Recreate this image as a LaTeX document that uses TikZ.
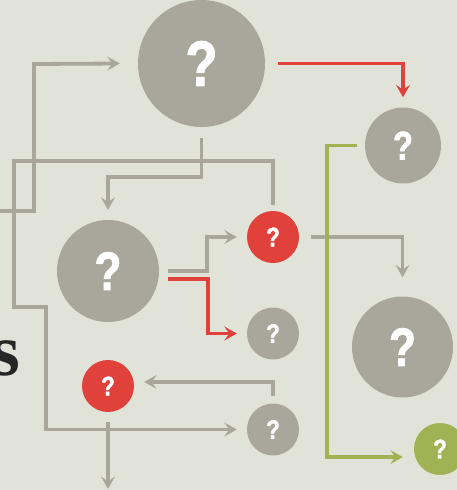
\documentclass[tikz,border=0pt]{standalone}
\usepackage{fontspec}
\usetikzlibrary{arrows.meta,calc}
\newfontfamily\qfont[FakeStretch=0.82,FakeBold=1.6]{Liberation Sans}
\newfontfamily\serfont{Liberation Serif}
\definecolor{bg}{RGB}{226,227,216}
\definecolor{qgrey}{RGB}{169,166,155}
\definecolor{qred}{RGB}{224,65,58}
\definecolor{qgreen}{RGB}{161,178,85}
\tikzset{
  q/.style={circle, inner sep=0pt, text=white, font=\qfont\bfseries\fontsize{#1}{#1}\selectfont},
  big/.style={q=64, minimum size=127pt, fill=qgrey},
  mid/.style={q=54, minimum size=102pt, fill=qgrey},
  med/.style={q=40, minimum size=76pt, fill=qgrey},
  small/.style={q=27, minimum size=52pt},
  conn/.style={line width=3.8pt, -{Stealth[length=12.5pt,width=14pt,inset=5pt]}},
  gl/.style={conn, draw=qgrey},
  rl/.style={conn, draw=qred},
  grl/.style={conn, draw=qgreen}
}
\begin{document}
\begin{tikzpicture}[x=1pt,y=-1pt]
\useasboundingbox (0,0) rectangle (457,490);
\clip (0,0) rectangle (457,490);
\fill[bg] (0,0) rectangle (457,490);

\node[anchor=base east, font=\serfont\bfseries\fontsize{74}{74}\selectfont, text=black!85, inner sep=0pt] (s) at (20,375) {s};

\node[big] (c1) at (201.5,63.5) {?};
\node[med] (c2) at (403,145.5) {?};
\node[small, fill=qred] (c3) at (273,237) {?};
\node[mid, minimum size=102pt] (c4) at (108,271) {?};
\node[small, fill=qgrey] (c5) at (273,333.5) {?};
\node[small, fill=qred] (c6) at (108,386) {?};
\node[small, fill=qgrey] (c7) at (273,429.5) {?};
\node[mid, minimum size=101pt] (c8) at (402.5,347) {?};
\node[small, fill=qgreen] (c9) at (440,449) {?};

\coordinate (a0) at (-2,211);
\coordinate (g1) at (108,489);

% A
\draw[gl] (a0) -| (34,64) -- ($(c1.west)+(-18,0)$);
% B
\draw[gl] ($(c1.south)+(0,11)$) -- (201.5,177) -| ($(c4.north)+(0,-10)$);
% C
\draw[gl] ($(c3.north)+(0,-6)$) |- (14,161) |- (46,307) |- ($(c7.west)+(-10,0)$);
% D
\draw[gl] ($(c4.east)+(9,0)$) -- (207,271) |- ($(c3.west)+(-10,0)$);
% E
\draw[rl] ($(c4.east)+(9,8)$) -- (208,279) |- ($(c5.west)+(-10,0)$);
% F
\draw[gl] ($(c7.north)+(0,-7)$) |- ($(c6.east)+(10,-4)$);
% G
\draw[gl] ($(c6.south)+(0,10)$) -- (g1);
% H
\draw[rl] ($(c1.east)+(13,0)$) -| ($(c2.north)+(0,-10)$);
% I
\draw[gl] ($(c3.east)+(12,0)$) -| ($(c8.north)+(0,-19)$);
% J
\draw[grl] ($(c2.west)+(-8,0)$) -| (327,457) -- ($(c9.west)+(-11,8)$);
\end{tikzpicture}
\end{document}
